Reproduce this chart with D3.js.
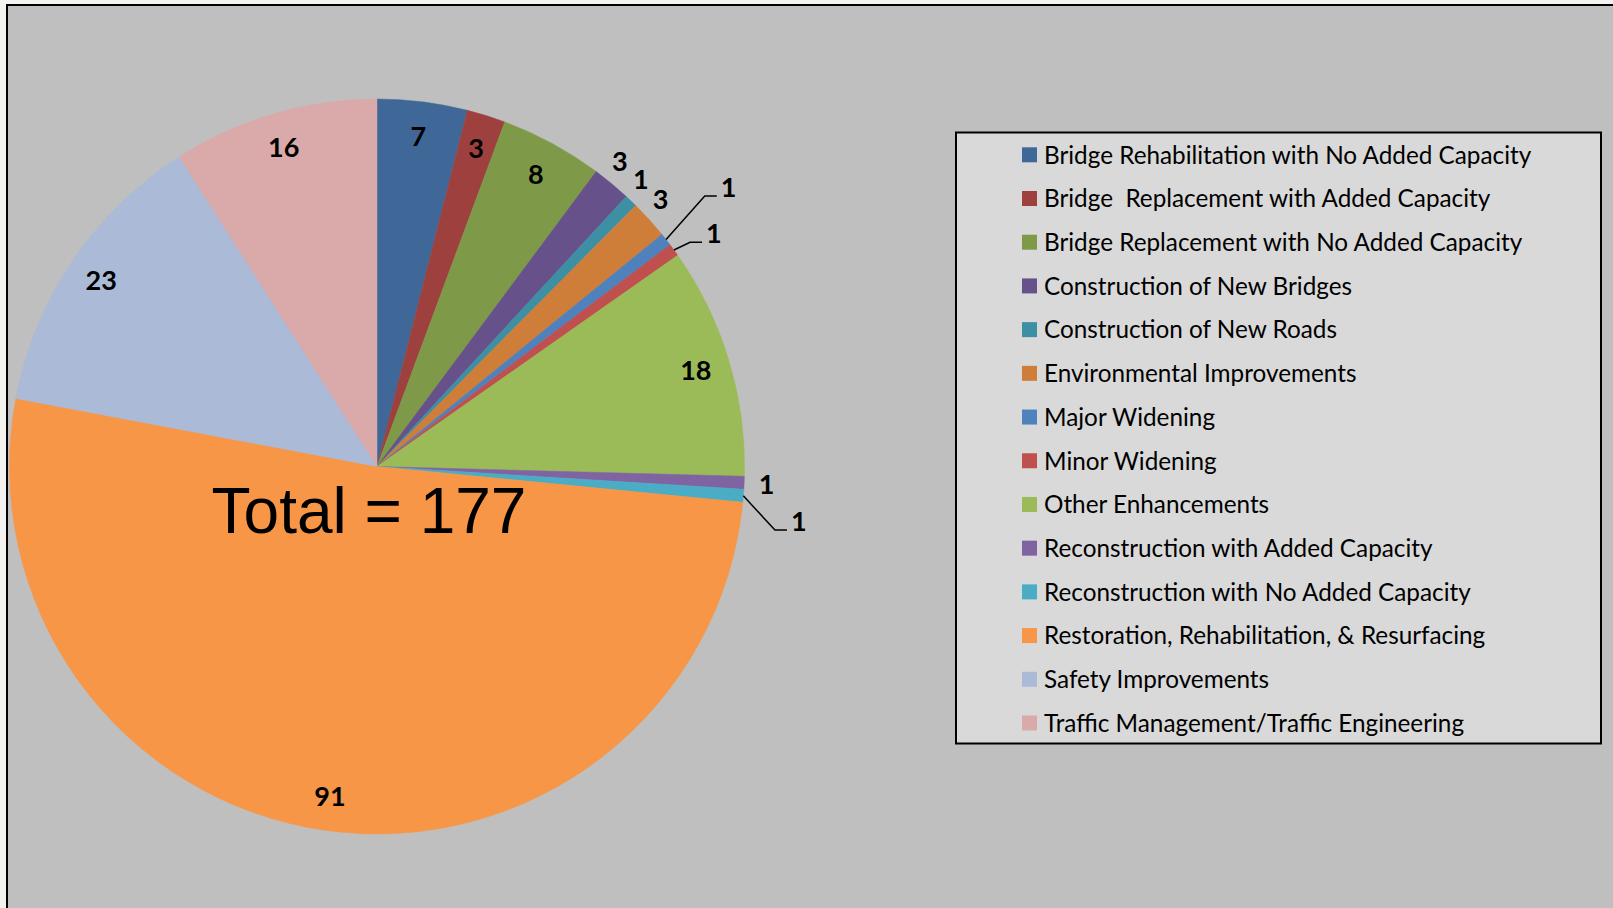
<!DOCTYPE html>
<html>
  <head>
    <meta charset="utf-8" />
    <style>
      body {
        margin: 0;
        background: #f4f2ee;
      }
      .slice-label {
        font-family: Lato, "DejaVu Sans", sans-serif;
        font-weight: bold;
        font-size: 27px;
        fill: #000;
      }
      .legend-text {
        font-family: Lato, "DejaVu Sans", sans-serif;
        font-size: 24.3px;
        fill: #000;
      }
      .total {
        font-family: "Liberation Sans", Arial, sans-serif;
        font-size: 64px;
        fill: #000;
      }
    </style>
  </head>
  <body>
    <svg width="1613" height="908"></svg>

    <script src="https://d3js.org/d3.v7.min.js"></script>
    <script>
      // categories in legend order (also drawing order, clockwise from 12 o'clock)
      let categories = [
        "Bridge Rehabilitation with No Added Capacity",
        "Bridge  Replacement with Added Capacity",
        "Bridge Replacement with No Added Capacity",
        "Construction of New Bridges",
        "Construction of New Roads",
        "Environmental Improvements",
        "Major Widening",
        "Minor Widening",
        "Other Enhancements",
        "Reconstruction with Added Capacity",
        "Reconstruction with No Added Capacity",
        "Restoration, Rehabilitation, & Resurfacing",
        "Safety Improvements",
        "Traffic Management/Traffic Engineering",
      ];

      let counts = [7, 3, 8, 3, 1, 3, 1, 1, 18, 1, 1, 91, 23, 16];

      let colors = [
        "#3f6899", "#9e413e", "#7e9a48", "#67518a", "#3d90a4", "#cf7e3a",
        "#4f81bd", "#c0504d", "#9bbb59", "#8064a2", "#4bacc6", "#f79646",
        "#aabad7", "#daa9a9",
      ];

      // how excel ended up placing each data label
      let labelMode = [
        "in", "in", "in", "out", "out", "out",
        "leader", "leader", "in", "out", "leader", "in", "in", "in",
      ];

      let total = d3.sum(counts);

      let svg = d3.select("svg");

      // chart area with black edge on left/top
      svg.append("rect")
        .attr("x", 7).attr("y", 5)
        .attr("width", 1613).attr("height", 908)
        .attr("fill", "#bfbfbf");
      svg.append("path")
        .attr("d", "M7,908 V5 H1613")
        .attr("fill", "none")
        .attr("stroke", "#000")
        .attr("stroke-width", 2);

      let cx = 377, cy = 466.5, radius = 367.5;

      let color = d3.scaleOrdinal().domain(categories).range(colors);

      let pie = d3.pie().sort(null).value((d) => d.value);
      let arcs = pie(categories.map((c, i) => ({ name: c, value: counts[i], mode: labelMode[i] })));

      let arc = d3.arc().innerRadius(0).outerRadius(radius);

      let g = svg.append("g").attr("transform", `translate(${cx},${cy})`);

      g.selectAll(".slice")
        .data(arcs)
        .join("path")
        .attr("class", "slice")
        .attr("d", arc)
        .attr("fill", (d) => color(d.data.name))
        .attr("stroke", (d) => color(d.data.name))
        .attr("stroke-width", 0.5);

      function polar(r, a) {
        return [r * Math.sin(a), -r * Math.cos(a)];
      }
      let mid = (d) => (d.startAngle + d.endAngle) / 2;

      // labels inside / just outside
      g.selectAll(".slice-label.plain")
        .data(arcs.filter((d) => d.data.mode != "leader"))
        .join("text")
        .attr("class", "slice-label plain")
        .attr("text-anchor", "middle")
        .attr("dy", "0.36em")
        .attr("transform", (d) => {
          let p = d.data.mode == "in"
            ? polar(333, mid(d))
            : polar(390, mid(d) - (d.index < 8 ? 0.02 : 0));
          return `translate(${p[0]},${p[1]})`;
        })
        .text((d) => d.data.value);

      // leader line labels: elbow radius and angle shift (degrees)
      let elbows = [
        { r: 425, shift: -1.4 },
        { r: 385, shift: 0.5 },
        { r: 403, shift: 4.5 },
      ];
      let leaders = arcs.filter((d) => d.data.mode == "leader");
      leaders.forEach((d, i) => {
        let a = mid(d);
        let p0 = polar(radius, a);
        let p1 = polar(elbows[i].r, a + (elbows[i].shift * Math.PI) / 180);
        let p2 = [p1[0] + 12, p1[1]];
        g.append("path")
          .attr("d", d3.line()([p0, p1, p2]))
          .attr("fill", "none")
          .attr("stroke", "#000")
          .attr("stroke-width", 1.5);
        g.append("text")
          .attr("class", "slice-label")
          .attr("x", p2[0] + 4)
          .attr("y", p2[1] + 1)
          .text(d.data.value);
      });

      g.append("text")
        .attr("class", "total")
        .attr("text-anchor", "middle")
        .attr("x", -8)
        .attr("y", 66.5)
        .text(`Total = ${total}`);

      // legend
      let legend = svg.append("g");
      legend.append("rect")
        .attr("x", 956).attr("y", 132.5)
        .attr("width", 645).attr("height", 611)
        .attr("fill", "#d9d9d9")
        .attr("stroke", "#000")
        .attr("stroke-width", 2);

      let rowY = d3.scalePoint().domain(categories).range([154.8, 723]);

      let rows = legend.selectAll(".row")
        .data(categories)
        .join("g")
        .attr("class", "row")
        .attr("transform", (d) => `translate(1022,${rowY(d)})`);

      rows.append("rect")
        .attr("x", 0).attr("y", -7.5)
        .attr("width", 15).attr("height", 15)
        .attr("fill", (d) => color(d));

      rows.append("text")
        .attr("class", "legend-text")
        .attr("x", 22)
        .attr("dy", "0.36em")
        .style("white-space", "pre")
        .text((d) => d);
    </script>
  </body>
</html>
